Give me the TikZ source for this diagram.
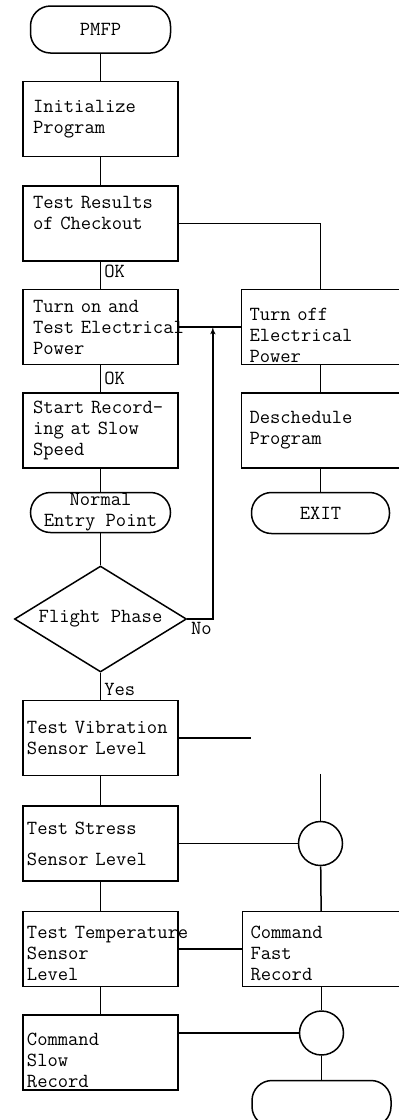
\documentclass[tikz,border=0pt]{standalone}
\usepackage{tikz}
\usetikzlibrary{shapes,arrows,positioning,calc}

\begin{document}
\begin{tikzpicture}[x=1pt,y=1pt,line width=1.5pt,>=latex',every node/.style={font=\fontsize{20}{21}\selectfont\ttfamily},
box/.style={draw,align=left,minimum height=75pt,inner xsep=10pt,inner ysep=0pt,text width=135pt},
tbox/.style={box,inner xsep=4pt,text width=147pt},
rbox/.style={box,inner xsep=8pt,text width=142pt},
term/.style={draw,rounded corners=20pt,minimum width=140pt,minimum height=40pt,inner sep=1pt,align=center},
junct/.style={draw,circle,minimum size=44pt,inner sep=0pt},
lbl/.style={inner sep=3pt}]
\useasboundingbox (0,0) rectangle (399,-1120);
% main column
\node[term,minimum height=47pt](pmfp) at (100.5,-29.5){PMFP};
\node[box,below=27pt of pmfp](init){Initialize\\Program};
\node[box,below=28pt of init](tr){Test Results\\of Checkout\\\mbox{}};
\node[box,below=27pt of tr](turnon){Turn on and\\\mbox{Test Electrical}\\Power};
\node[box,below=27pt of turnon](start){\mbox{Start Record-}\\ing at Slow\\Speed};
\node[term,below=23pt of start](nep){Normal\\Entry Point};
\node[draw,diamond,aspect=1.62,minimum width=172pt,minimum height=106pt,inner sep=0pt,below=32pt of nep](flight){Flight Phase};
\node[tbox,below=27pt of flight](vib){\mbox{Test Vibration}\\Sensor Level};
\node[tbox,below=29pt of vib](stress){Test Stress\\[10pt]Sensor Level};
\node[tbox,below=29pt of stress](temp){\mbox{}\\\mbox{Test Temperature}\\Sensor\\Level};
\node[tbox,below=27pt of temp](slow){\mbox{}\\[8pt]Command\\Slow\\Record};
% right column
\node[rbox,right=62pt of turnon](turnoff){\mbox{}\\[8pt]Turn off\\Electrical\\Power};
\node[rbox,below=27pt of turnoff](desched){Deschedule\\Program};
\node[term,minimum width=138pt,minimum height=41pt,below=23pt of desched](exit){EXIT};
\node[junct,right=119pt of stress](c1){};
\node[rbox,right=63pt of temp](fast){\mbox{}\\Command\\Fast\\Record};
\node[junct,below=23pt of fast](c2){};
\node[term,minimum width=139pt,minimum height=46pt,below=24pt of c2](endterm){};
\coordinate (join) at ($(turnon.east)!0.55!(turnoff.west)$);
\coordinate (vibend) at ([xshift=72pt]vib.east);
\coordinate (c1top) at ([yshift=47pt]c1.north);
% connectors
\draw (pmfp)--(init); \draw (init)--(tr);
\draw (tr)--node[lbl,pos=0.35,right](ok1){OK}(turnon);
\draw (turnon)--node[lbl,pos=0.5,right](ok2){OK}(start);
\draw (start)--(nep); \draw (nep)--(flight);
\draw (flight)--node[lbl,pos=0.6,right](yes){Yes}(vib);
\draw (vib)--(stress); \draw (stress)--(temp); \draw (temp)--(slow);
\draw (tr.east)-|(turnoff.north);
\draw (turnon.east)--(turnoff.west);
\draw[->] (flight.east) node[lbl,below right](no){No} -|(join);
\draw (turnoff)--(desched); \draw (desched)--(exit);
\draw (vib.east)--(vibend);
\draw (c1top)--(c1.north); \draw (stress)--(c1); \draw (c1)--(fast);
\draw (temp.east)--(temp.east-|fast.west);
\draw (fast)--(c2); \draw (c2)--(endterm);
\draw (c2.west)--(c2.west-|slow.east);
\end{tikzpicture}
\end{document}
